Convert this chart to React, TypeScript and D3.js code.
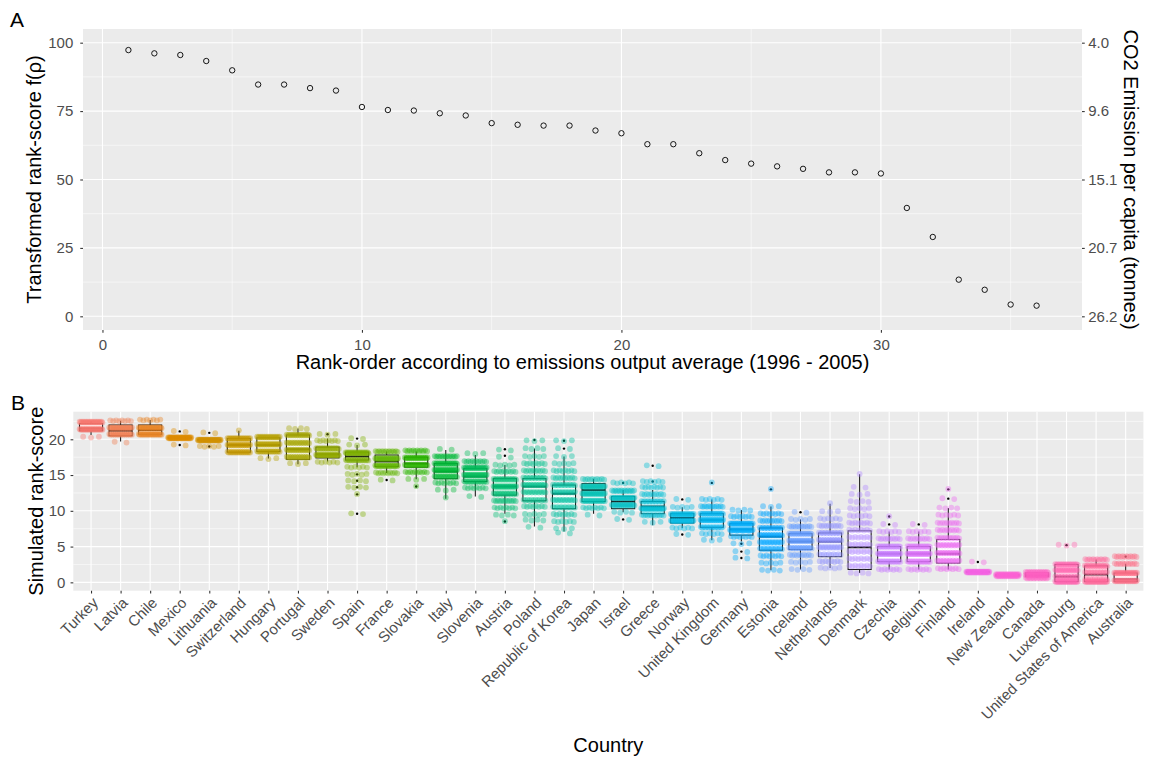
import { useEffect } from "react";
import * as d3 from "d3";

const width = 1152;
const height = 758;
const font = "'Liberation Sans', Arial, Helvetica, sans-serif";

// ---------- panel A: rank-score by rank order ----------
const ranks = [1, 2, 3, 4, 5, 6, 7, 8, 9, 10, 11, 12, 13, 14, 15, 16, 17, 18,
  19, 20, 21, 22, 23, 24, 25, 26, 27, 28, 29, 30, 31, 32, 33, 34, 35, 36];
const rankScores = [97.3, 96.1, 95.5, 93.3, 89.9, 84.7, 84.7, 83.4, 82.5, 76.5, 75.4, 75.2,
  74.2, 73.4, 70.6, 70.0, 69.7, 69.7, 67.9, 66.9, 62.9, 62.9, 59.6, 57.1, 55.8, 54.8,
  53.9, 52.6, 52.6, 52.2, 39.6, 29.0, 13.4, 9.7, 4.3, 3.9];
const rankTicks = [0, 10, 20, 30];
const scoreTicks = [0, 25, 50, 75, 100];
const co2Labels = ["26.2", "20.7", "15.1", "9.6", "4.0"];

// ---------- panel B: simulated rank-score per country ----------
const countries = ["Turkey", "Latvia", "Chile", "Mexico", "Lithuania", "Switzerland", "Hungary",
  "Portugal", "Sweden", "Spain", "France", "Slovakia", "Italy", "Slovenia", "Austria", "Poland",
  "Republic of Korea", "Japan", "Israel", "Greece", "Norway", "United Kingdom", "Germany",
  "Estonia", "Iceland", "Netherlands", "Denmark", "Czechia", "Belgium", "Finland", "Ireland",
  "New Zealand", "Canada", "Luxembourg", "United States of America", "Australia"];

const whiskerLow = [20.6, 19.7, 20.6, 20.2, 19.9, 18.2, 17.3, 16.5, 16.9, 16.1, 15.3, 14.4, 11.7,
  12.0, 9.6, 7.8, 7.1, 9.6, 9.8, 8.0, 7.6, 5.9, 5.7, 1.7, 1.8, 2.0, 1.3, 1.8, 1.8, 1.8, 1.45,
  0.9, 0.6, 0.0, 0.0, 0.0];
const boxQ1 = [21.2, 20.5, 20.7, 20.2, 19.9, 18.2, 18.3, 17.2, 17.4, 17.1, 16.2, 16.1, 14.5, 14.1,
  12.2, 11.4, 10.3, 11.3, 10.3, 9.6, 8.3, 7.7, 6.6, 4.5, 4.6, 3.6, 1.8, 2.9, 2.9, 2.7, 1.45, 0.9,
  0.8, 0.1, 0.1, 0.1];
const boxMedian = [21.5, 21.2, 21.3, 20.2, 19.9, 19.2, 19.2, 18.6, 17.9, 17.6, 16.9, 16.6, 15.5,
  14.8, 13.4, 13.4, 12.4, 12.9, 11.3, 10.6, 9.0, 8.7, 7.4, 6.4, 5.7, 5.7, 4.9, 4.0, 4.0, 4.0,
  1.45, 1.0, 1.0, 0.8, 1.1, 0.4];
const boxQ3 = [22.2, 22.0, 22.0, 20.2, 19.9, 20.1, 20.2, 20.6, 18.9, 18.2, 17.8, 17.5, 16.6, 15.9,
  14.5, 14.5, 13.6, 13.8, 12.0, 11.3, 9.6, 9.6, 8.2, 7.6, 6.8, 6.9, 7.2, 5.0, 5.0, 6.0, 1.45,
  1.1, 1.3, 2.5, 2.3, 1.3];
const whiskerHigh = [22.5, 22.6, 22.7, 20.2, 19.9, 21.2, 20.3, 21.5, 20.1, 19.2, 18.3, 18.3, 18.5,
  17.8, 16.4, 18.7, 17.6, 14.5, 12.9, 12.9, 10.5, 11.6, 10.1, 10.6, 8.8, 11.0, 15.1, 7.1, 7.1,
  10.4, 1.45, 1.1, 1.4, 2.5, 3.2, 2.6];
const outliers = [[], [], [], [21.1, 19.2], [20.9, 19.0], [], [], [], [20.7],
  [20.1, 15.1, 14.2, 13.3, 12.3, 9.6], [14.3], [13.4], [], [], [18.6, 17.7, 8.5], [19.9],
  [19.8, 18.7], [], [13.9, 8.8], [16.3, 14.1], [11.6, 6.7], [13.9], [5.4, 4.3, 3.4], [13.0],
  [9.8], [], [], [9.2, 8.1], [8.1], [13.0, 11.7], [2.85], [], [], [5.2], [], [3.6]];

// simulated values: the levels the dots sit on, and how many dots per level
const pointLevels = [
  [22.4, 21.4, 20.3],
  [22.6, 21.6, 20.7, 19.6],
  [22.7, 21.6, 20.7],
  [21.1, 20.2, 19.2],
  [20.9, 19.9, 19.0],
  [21.2, 20.1, 19.2, 18.2],
  [20.3, 19.3, 18.3, 17.3],
  [21.5, 20.6, 19.5, 18.5, 17.5, 16.6],
  [20.7, 19.8, 18.7, 17.8, 16.8],
  [20.1, 19.2, 18.1, 17.1, 16.1, 15.1, 14.2, 13.3, 12.3, 9.6],
  [18.3, 17.3, 16.3, 15.3, 14.3],
  [18.4, 17.4, 16.4, 15.4, 14.4, 13.4],
  [18.6, 17.6, 16.6, 15.7, 14.8, 13.9, 12.9, 11.8],
  [18.0, 16.9, 16.0, 15.0, 14.1, 13.2, 12.0],
  [18.5, 17.5, 16.4, 15.5, 14.4, 13.4, 12.4, 11.4, 10.4, 9.4, 8.5],
  [19.8, 18.7, 17.6, 16.6, 15.6, 14.6, 13.6, 12.6, 11.5, 10.6, 9.5, 8.7, 7.7],
  [19.8, 18.7, 17.6, 16.6, 15.6, 14.6, 13.6, 12.6, 11.5, 10.5, 9.5, 8.5, 7.5, 6.9],
  [14.4, 13.4, 12.4, 11.4, 10.4, 9.4],
  [13.9, 12.8, 11.8, 10.8, 9.8, 8.8],
  [16.3, 14.1, 13.3, 12.3, 11.3, 10.3, 9.4, 8.4],
  [11.6, 10.5, 9.5, 8.6, 7.6, 6.7],
  [13.9, 11.6, 10.6, 9.6, 8.7, 7.7, 6.8, 5.9],
  [10.1, 9.2, 8.2, 7.3, 6.4, 5.4, 4.3, 3.4],
  [13.0, 10.6, 9.6, 8.6, 7.6, 6.6, 5.6, 4.7, 3.7, 2.7, 1.7],
  [9.8, 8.8, 7.8, 6.8, 5.8, 4.8, 3.8, 2.8, 1.8],
  [11.0, 9.9, 8.9, 7.9, 6.9, 5.9, 4.9, 3.9, 2.9, 2.0],
  [15.1, 13.3, 12.3, 11.3, 10.3, 9.3, 8.3, 7.3, 6.3, 5.3, 4.3, 3.3, 2.3, 1.3],
  [9.2, 8.1, 7.1, 6.1, 5.0, 4.0, 2.9, 1.8],
  [8.1, 7.1, 6.1, 5.0, 4.0, 2.9, 1.8],
  [13.0, 11.7, 10.4, 9.4, 8.3, 7.3, 6.2, 5.2, 4.1, 3.0, 1.9],
  [2.85, 1.45],
  [1.1, 0.9],
  [1.4, 1.0, 0.6],
  [5.2, 2.5, 1.7, 0.8, 0.1],
  [3.2, 2.3, 1.4, 0.5, 0.1],
  [3.6, 2.6, 1.3, 0.2],
];
const pointCounts = [
  [28, 28, 3],
  [8, 25, 22, 2],
  [7, 28, 28],
  [2, 45, 2],
  [2, 45, 5],
  [1, 25, 25, 22],
  [25, 25, 22, 3],
  [4, 22, 18, 22, 20, 3],
  [3, 8, 20, 30, 6],
  [2, 3, 30, 20, 6, 5, 4, 4, 1, 2],
  [14, 25, 25, 10, 2],
  [12, 25, 22, 10, 3, 1],
  [2, 15, 22, 25, 18, 8, 3, 1],
  [3, 12, 25, 25, 18, 8, 2],
  [2, 2, 5, 10, 18, 25, 18, 12, 8, 4, 1],
  [3, 4, 5, 8, 10, 14, 18, 14, 12, 8, 5, 4, 2],
  [3, 2, 3, 5, 8, 10, 14, 15, 14, 12, 8, 6, 3, 2],
  [10, 25, 25, 20, 8, 2],
  [6, 15, 25, 22, 4, 2],
  [2, 6, 8, 10, 15, 25, 12, 3],
  [2, 5, 25, 25, 6, 2],
  [1, 6, 12, 20, 25, 15, 6, 3],
  [4, 8, 25, 25, 8, 3, 2, 2],
  [1, 3, 8, 10, 15, 18, 15, 12, 8, 5, 4],
  [2, 5, 12, 20, 22, 18, 10, 5, 4],
  [1, 3, 6, 10, 15, 18, 15, 10, 8, 5],
  [1, 2, 3, 4, 5, 6, 8, 8, 8, 8, 8, 8, 8, 4],
  [1, 2, 6, 10, 18, 25, 18, 8],
  [2, 6, 10, 18, 25, 18, 8],
  [1, 2, 4, 6, 10, 10, 12, 15, 18, 15, 8],
  [2, 45],
  [25, 25],
  [20, 25, 15],
  [3, 20, 20, 15, 25],
  [12, 20, 15, 10, 25],
  [12, 12, 25, 25],
];
const simTicks = [0, 5, 10, 15, 20];

// ggplot2 default hue palette (polar LUV, c = 100, l = 65)
function ggHue(h: number): string {
  const L = 65, C = 100;
  const hr = (h * Math.PI) / 180;
  const U = C * Math.cos(hr), V = C * Math.sin(hr);
  const Xn = 95.047, Yn = 100, Zn = 108.883;
  const Y = Yn * Math.pow((L + 16) / 116, 3);
  const t = Xn + Yn + Zn;
  const xw = Xn / t, yw = Yn / t;
  const uN = (2 * xw) / (6 * yw - xw + 1.5);
  const vN = (4.5 * yw) / (6 * yw - xw + 1.5);
  const u = U / (13 * L) + uN;
  const v = V / (13 * L) + vN;
  const X = (9 * Y * u) / (4 * v);
  const Z = -X / 3 - 5 * Y + (3 * Y) / v;
  const lin = [
    (3.240479 * X - 1.53715 * Y - 0.498535 * Z) / Yn,
    (-0.969256 * X + 1.875992 * Y + 0.041556 * Z) / Yn,
    (0.055648 * X - 0.204043 * Y + 1.057311 * Z) / Yn,
  ];
  const gam = (c: number) => (c <= 0.0031308 ? 12.92 * c : 1.055 * Math.pow(c, 1 / 2.4) - 0.055);
  const [r, g, b] = lin.map((c) => Math.round(255 * Math.min(1, Math.max(0, gam(c)))));
  return d3.rgb(r, g, b).formatHex();
}
const colors = countries.map((_, i) => ggHue(15 + (360 / countries.length) * i));

// ---------- layout ----------
const pA = { left: 83, right: 1082, top: 29, bottom: 330 };
const pB = { left: 73.3, right: 1143.4, top: 411.7, bottom: 590.7 };

const expand = (lo: number, hi: number) => [lo - (hi - lo) * 0.05, hi + (hi - lo) * 0.05];

const xA = d3.scaleLinear().domain(expand(1, 36)).range([pA.left, pA.right]);
const yA = d3.scaleLinear().domain(expand(0, 100)).range([pA.bottom, pA.top]);
const xB = d3.scalePoint<string>().domain(countries).range([pB.left, pB.right]).padding(0.6);
const yB = d3.scaleLinear().domain(expand(-0.03, 22.72)).range([pB.bottom, pB.top]);

const styleAxis = (g: any, size = 15) => {
  g.attr("font-size", null).attr("font-family", null);
  g.select(".domain").remove();
  g.selectAll(".tick line").attr("stroke", "#333333").attr("stroke-width", 1.07);
  g.selectAll(".tick text").attr("fill", "#4D4D4D").style("font-size", `${size}px`).style("font-family", font);
};

const App = () => {
  useEffect(() => {
    document.body.style.margin = "0";

    d3.select(".a-y-left")
      .call(d3.axisLeft(yA).tickValues(scoreTicks).tickSize(2.75).tickPadding(7) as any)
      .call(styleAxis);
    d3.select(".a-y-right")
      .call(d3.axisRight(yA).tickValues(scoreTicks).tickSize(2.75).tickPadding(3.5)
        .tickFormat((_d, i) => co2Labels[i]) as any)
      .call(styleAxis);
    d3.select(".a-x")
      .call(d3.axisBottom(xA).tickValues(rankTicks).tickSize(2.75).tickPadding(6.5) as any)
      .call(styleAxis);

    d3.select(".b-y")
      .call(d3.axisLeft(yB).tickValues(simTicks).tickSize(2.75).tickPadding(5.2) as any)
      .call(styleAxis);
    d3.select(".b-x")
      .call(d3.axisBottom(xB).tickSize(2.75).tickPadding(0) as any)
      .call(styleAxis)
      .selectAll(".tick text")
      .attr("y", 0)
      .attr("x", 0)
      .attr("dy", "0.71em")
      .attr("text-anchor", "end")
      .attr("transform", "translate(0,5.5) rotate(-45)");
  }, []);

  const step = xB.step();
  const boxW = step * 0.78;
  const jit = step * 0.4;

  const gridA = {
    xMajor: rankTicks,
    xMinor: [5, 15, 25, 35],
    yMajor: scoreTicks,
    yMinor: [12.5, 37.5, 62.5, 87.5],
  };
  const gridBMinor = [2.5, 7.5, 12.5, 17.5, 22.5];

  return (
    <svg width={width} height={height} viewBox={`0 0 ${width} ${height}`}
      style={{ position: "absolute", left: 0, top: 0, background: "#fff", fontFamily: font }}>
      {/* ---------- panel A ---------- */}
      <text x={10} y={27} fontSize={21} fill="#000">A</text>
      <rect x={pA.left} y={pA.top} width={pA.right - pA.left} height={pA.bottom - pA.top} fill="#EBEBEB" />
      <g className="grid-a" stroke="#fff">
        {gridA.yMinor.map((v) => (
          <line key={`ym${v}`} x1={pA.left} x2={pA.right} y1={yA(v)} y2={yA(v)} strokeWidth={0.55} />
        ))}
        {gridA.xMinor.map((v) => (
          <line key={`xm${v}`} y1={pA.top} y2={pA.bottom} x1={xA(v)} x2={xA(v)} strokeWidth={0.55} />
        ))}
        {gridA.yMajor.map((v) => (
          <line key={`y${v}`} x1={pA.left} x2={pA.right} y1={yA(v)} y2={yA(v)} strokeWidth={1.1} />
        ))}
        {gridA.xMajor.map((v) => (
          <line key={`x${v}`} y1={pA.top} y2={pA.bottom} x1={xA(v)} x2={xA(v)} strokeWidth={1.1} />
        ))}
      </g>
      <g className="points-a">
        {ranks.map((r, i) => (
          <circle key={r} cx={xA(r)} cy={yA(rankScores[i])} r={2.7} fill="none" stroke="#000" strokeWidth={0.9} />
        ))}
      </g>
      <g className="a-y-left" transform={`translate(${pA.left},0)`} />
      <g className="a-y-right" transform={`translate(${pA.right},0)`} />
      <g className="a-x" transform={`translate(0,${pA.bottom})`} />
      <text transform={`translate(40.6,${(pA.top + pA.bottom) / 2}) rotate(-90)`} textAnchor="middle" fontSize={20}>
        Transformed rank-score f(ρ)
      </text>
      <text transform={`translate(1124,${(pA.top + pA.bottom) / 2}) rotate(90)`} textAnchor="middle" fontSize={20}>
        CO2 Emission per capita (tonnes)
      </text>
      <text x={(pA.left + pA.right) / 2} y={369} textAnchor="middle" fontSize={20}>
        Rank-order according to emissions output average (1996 - 2005)
      </text>

      {/* ---------- panel B ---------- */}
      <text x={11} y={410} fontSize={21} fill="#000">B</text>
      <rect x={pB.left} y={pB.top} width={pB.right - pB.left} height={pB.bottom - pB.top} fill="#EBEBEB" />
      <g className="grid-b" stroke="#fff">
        {gridBMinor.map((v) => (
          <line key={`ym${v}`} x1={pB.left} x2={pB.right} y1={yB(v)} y2={yB(v)} strokeWidth={0.55} />
        ))}
        {simTicks.map((v) => (
          <line key={`y${v}`} x1={pB.left} x2={pB.right} y1={yB(v)} y2={yB(v)} strokeWidth={1.1} />
        ))}
        {countries.map((c) => (
          <line key={c} y1={pB.top} y2={pB.bottom} x1={xB(c)} x2={xB(c)} strokeWidth={1.1} />
        ))}
      </g>
      <g className="boxes">
        {countries.map((c, i) => {
          const cx = xB(c) as number;
          return (
            <g key={c} stroke="#1a1a1a">
              <line x1={cx} x2={cx} y1={yB(boxQ3[i])} y2={yB(whiskerHigh[i])} strokeWidth={1.07} />
              <line x1={cx} x2={cx} y1={yB(boxQ1[i])} y2={yB(whiskerLow[i])} strokeWidth={1.07} />
              <rect x={cx - boxW / 2} width={boxW} y={yB(boxQ3[i])}
                height={Math.max(0.01, yB(boxQ1[i]) - yB(boxQ3[i]))} fill="#fff" strokeWidth={1.07} />
              <line x1={cx - boxW / 2} x2={cx + boxW / 2} y1={yB(boxMedian[i])} y2={yB(boxMedian[i])} strokeWidth={2} />
              {outliers[i].map((o, k) => (
                <circle key={k} cx={cx} cy={yB(o)} r={1.2} fill="#000" stroke="none" />
              ))}
            </g>
          );
        })}
      </g>
      <g className="jitter">
        {countries.map((c, i) => {
          const cx = xB(c) as number;
          return (
            <g key={c} fill={colors[i]} fillOpacity={0.4}>
              {pointLevels[i].flatMap((lv, li) => {
                const n = pointCounts[i][li];
                return d3.range(n).map((j) => (
                  <circle key={`${li}-${j}`}
                    cx={cx + (n === 1 ? 0 : ((j + 0.5) / n - 0.5) * 2 * jit)}
                    cy={yB(lv) + (j % 2 === 0 ? -0.4 : 0.4)}
                    r={2.9} />
                ));
              })}
            </g>
          );
        })}
      </g>
      <g className="b-y" transform={`translate(${pB.left},0)`} />
      <g className="b-x" transform={`translate(0,${pB.bottom})`} />
      <text transform={`translate(42.6,${(pB.top + pB.bottom) / 2}) rotate(-90)`} textAnchor="middle" fontSize={20}>
        Simulated rank-score
      </text>
      <text x={(pB.left + pB.right) / 2} y={752} textAnchor="middle" fontSize={20}>
        Country
      </text>
    </svg>
  );
};

export default App;
